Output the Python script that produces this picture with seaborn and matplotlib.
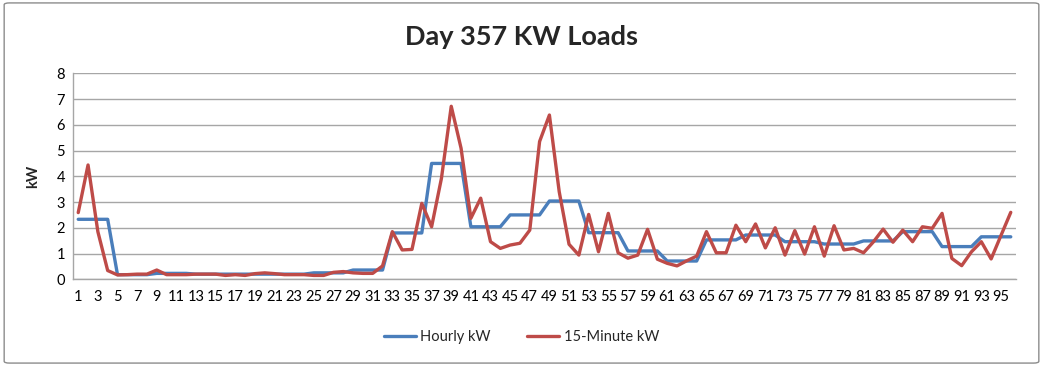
import matplotlib
matplotlib.use("Agg")
import matplotlib.pyplot as plt
from matplotlib.patches import FancyBboxPatch
from matplotlib.lines import Line2D
import seaborn as sns
import pandas as pd

intervals = list(range(1, 97))

hourly_by_hour = [2.33, 0.18, 0.23, 0.2, 0.2, 0.2, 0.25, 0.36, 1.8, 4.5, 2.04, 2.5,
                  3.04, 1.81, 1.1, 0.71, 1.53, 1.72, 1.46, 1.37, 1.49, 1.85, 1.27, 1.65]
hourly_kw = [v for v in hourly_by_hour for _ in range(4)]

minute15_kw = [2.59, 4.44, 1.85, 0.34, 0.17, 0.18, 0.2, 0.2,
               0.36, 0.18, 0.18, 0.18, 0.2, 0.2, 0.2, 0.15,
               0.18, 0.15, 0.22, 0.25, 0.22, 0.18, 0.18, 0.18,
               0.15, 0.15, 0.27, 0.3, 0.25, 0.23, 0.23, 0.52,
               1.85, 1.14, 1.16, 2.95, 2.04, 3.92, 6.72, 5.09,
               2.37, 3.15, 1.46, 1.2, 1.33, 1.4, 1.91, 5.35,
               6.38, 3.4, 1.36, 0.94, 2.52, 1.07, 2.56, 1.03,
               0.82, 0.94, 1.94, 0.78, 0.62, 0.52, 0.72, 0.9,
               1.85, 1.03, 1.03, 2.1, 1.46, 2.15, 1.22, 2.0,
               0.94, 1.89, 0.98, 2.04, 0.9, 2.08, 1.14, 1.2,
               1.03, 1.45, 1.95, 1.44, 1.91, 1.46, 2.04, 1.98,
               2.56, 0.81, 0.53, 1.07, 1.46, 0.79, 1.7, 2.6]

series_names = ["Hourly kW", "15-Minute kW"]
x_tick_labels = [str(i) for i in range(1, 97, 2)]

df = pd.DataFrame({
    "interval": intervals * 2,
    "kW": hourly_kw + minute15_kw,
    "series": [series_names[0]] * 96 + [series_names[1]] * 96,
})

sns.set_theme(style="white")
plt.rcParams["font.family"] = ["Lato", "DejaVu Sans"]

fig = plt.figure(figsize=(10.43, 3.66), dpi=100)
ax = fig.add_axes([0.0703, 0.2369, 0.9035, 0.5628])

sns.lineplot(data=df, x="interval", y="kW", hue="series",
             palette=["#4A7EBB", "#BE4B48"], linewidth=2.4, ax=ax,
             legend=False, sort=False)

ax.set_xlim(0.5, 96.5)
ax.set_ylim(0, 8)
ax.set_yticks(range(0, 9))
ax.set_xticks(range(1, 97, 2))
ax.set_xticklabels(x_tick_labels)
ax.tick_params(axis="both", labelsize=10.5, length=0, colors="#000000")
ax.tick_params(axis="x", pad=8)
ax.tick_params(axis="y", pad=6)
ax.yaxis.grid(True, color="#A6A6A6", linewidth=1)
ax.xaxis.grid(False)
ax.set_axisbelow(True)
for s in ["top", "right"]:
    ax.spines[s].set_visible(False)
for s in ["left", "bottom"]:
    ax.spines[s].set_color("#A6A6A6")
    ax.spines[s].set_linewidth(1)
ax.set_xlabel("")
ax.set_ylabel("kW", fontsize=10.5, fontweight="bold", labelpad=12)

fig.text(0.5, 0.9, "Day 357 KW Loads", ha="center", va="center",
         fontsize=19.5, fontweight="bold")

handles = [Line2D([0], [0], color="#4A7EBB", lw=2.4),
           Line2D([0], [0], color="#BE4B48", lw=2.4)]
fig.legend(handles, series_names, loc="center", bbox_to_anchor=(0.5, 0.078),
           ncol=2, frameon=False, fontsize=10.5, handlelength=2.2,
           columnspacing=2.5, handletextpad=0.3)

border = FancyBboxPatch((0.004, 0.008), 0.992, 0.984,
                        boxstyle="round,pad=0,rounding_size=0.005",
                        transform=fig.transFigure, fill=False,
                        edgecolor="#8C8C8C", linewidth=1)
fig.patches.append(border)

fig.savefig("out.png", dpi=100)
